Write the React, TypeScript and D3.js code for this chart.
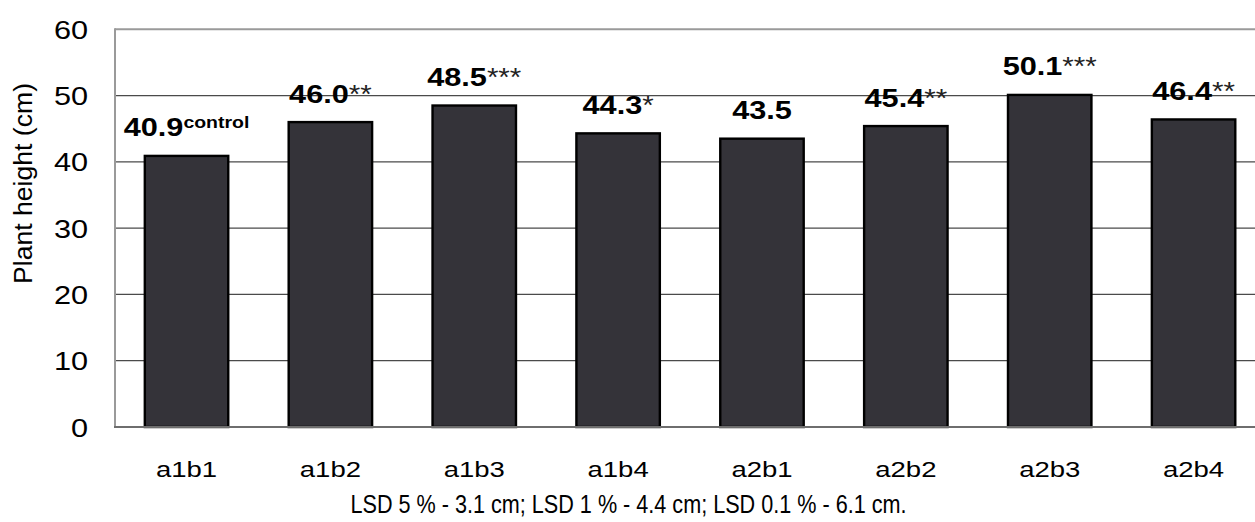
import React from "react";
import * as d3 from "d3";

const categories = ["a1b1", "a1b2", "a1b3", "a1b4", "a2b1", "a2b2", "a2b3", "a2b4"];
const values = [40.9, 46.0, 48.5, 44.3, 43.5, 45.4, 50.1, 46.4];
const marks = ["control", "**", "***", "*", "", "**", "***", "**"];
const yTicks = [0, 10, 20, 30, 40, 50, 60];
const yTitle = "Plant height (cm)";
const note = "LSD  5 % - 3.1 cm; LSD 1 % - 4.4 cm; LSD 0.1 % - 6.1 cm.";

const W = 1255;
const H = 522;
const FONT = "'Liberation Sans', Arial, Helvetica, sans-serif";

export default function App() {
  const x = d3.scaleBand<string>().domain(categories).range([114.6, 1265.5]).padding(0);
  const y = d3.scaleLinear().domain([0, 60]).range([427, 29.3]);
  const barW = x.bandwidth() * 0.58;
  const sx = 1.18;

  return (
    <svg
      width={W}
      height={H}
      style={{ position: "absolute", left: 0, top: 0, background: "#fff" }}
      fontFamily={FONT}
    >
      {/* gridlines */}
      {yTicks.filter((t) => t > 0 && t < 60).map((t) => (
        <line key={"g" + t} x1={115} x2={W} y1={y(t)} y2={y(t)} stroke="#4a4a4a" strokeWidth={1.3} />
      ))}
      {/* top frame line */}
      <line x1={115} x2={W} y1={y(60)} y2={y(60)} stroke="#9a9a9a" strokeWidth={2} />
      {/* left axis */}
      <line x1={115} x2={115} y1={y(60) - 1} y2={y(0) + 1} stroke="#9a9a9a" strokeWidth={2} />

      {/* bars */}
      {categories.map((c, i) => {
        const cx = (x(c) as number) + x.bandwidth() / 2;
        return (
          <rect
            key={"b" + c}
            x={cx - barW / 2}
            y={y(values[i])}
            width={barW}
            height={y(0) - y(values[i])}
            fill="#343339"
            stroke="#000"
            strokeWidth={2.4}
          />
        );
      })}

      {/* bottom axis */}
      <line x1={114} x2={W} y1={y(0)} y2={y(0)} stroke="#6e6e6e" strokeWidth={2} />

      {/* value labels */}
      {categories.map((c, i) => {
        const cx = (x(c) as number) + x.bandwidth() / 2;
        const by = y(values[i]) - 19.5;
        const m = marks[i];
        return (
          <text
            key={"v" + c}
            transform={`translate(${cx},${by}) scale(${sx},1)`}
            textAnchor="middle"
            fontSize={26}
            fontWeight="bold"
            fill="#000"
          >
            <tspan>{values[i].toFixed(1)}</tspan>
            {m === "control" ? (
              <tspan fontSize={16.5} dy={-8}>{m}</tspan>
            ) : m ? (
              <tspan fontWeight="normal" fontSize={25} fill="#222">{m}</tspan>
            ) : null}
          </text>
        );
      })}

      {/* y tick labels */}
      {yTicks.map((t) => (
        <text
          key={"t" + t}
          transform={`translate(88,${y(t) + 9.5}) scale(${sx},1)`}
          textAnchor="end"
          fontSize={26}
          fill="#000"
        >
          {t}
        </text>
      ))}

      {/* category labels */}
      {categories.map((c) => {
        const cx = (x(c) as number) + x.bandwidth() / 2;
        return (
          <text
            key={"c" + c}
            transform={`translate(${cx},477) scale(1.25,1)`}
            textAnchor="middle"
            fontSize={22}
            fill="#000"
          >
            {c}
          </text>
        );
      })}

      {/* y title */}
      <text
        transform={`translate(32,183.5) rotate(-90)`}
        textAnchor="middle"
        fontSize={25.5}
        textLength={201}
        lengthAdjust="spacingAndGlyphs"
        fill="#000"
      >
        {yTitle}
      </text>

      {/* LSD note */}
      <text
        x={350.5}
        y={512.5}
        fontSize={25}
        textLength={556}
        lengthAdjust="spacingAndGlyphs"
        fill="#000"
      >
        {note}
      </text>
    </svg>
  );
}
